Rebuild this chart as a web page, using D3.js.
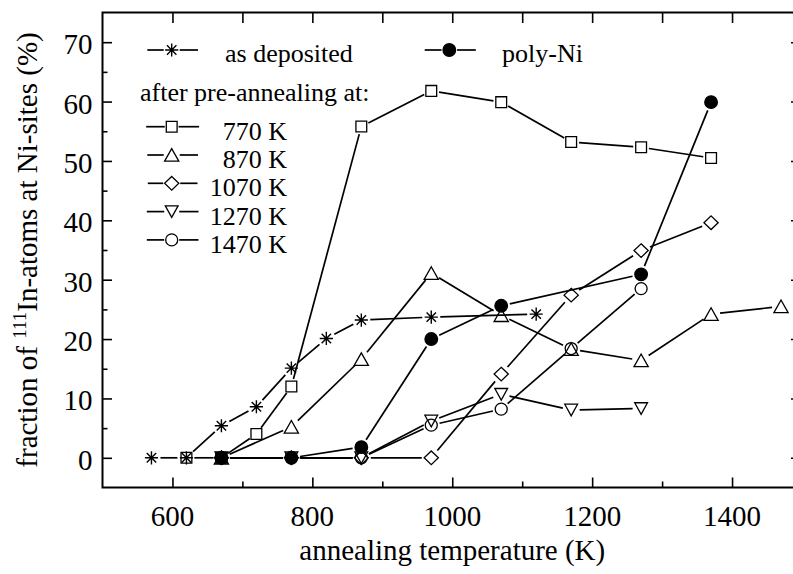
<!DOCTYPE html>
<html>
<head>
<meta charset="utf-8">
<script src="https://cdn.jsdelivr.net/npm/d3@7"></script>
<style>
  body { margin: 0; background: #fff; }
  svg { display: block; }
</style>
</head>
<body>
<div id="chart"></div>
<script>
// annealing temperatures (K) and fractions (%) for each sample
const tAsDep = [570, 620, 670, 720, 770, 820, 870, 970, 1120]
const vAsDep = [0, 0, 5.4, 8.6, 15.1, 20.1, 23.2, 23.7, 24.2]

const t770 = [620, 670, 720, 770, 870, 970, 1070, 1170, 1270, 1370]
const v770 = [0, 0, 4.0, 12.0, 55.8, 61.8, 59.9, 53.2, 52.3, 50.5]

const t870 = [670, 770, 870, 970, 1070, 1170, 1270, 1370, 1470]
const v870 = [0, 5.2, 16.6, 31.1, 24.0, 18.3, 16.4, 24.2, 25.5]

const t1070 = [670, 770, 870, 970, 1070, 1170, 1270, 1370]
const v1070 = [0, 0, 0, 0, 14.1, 27.4, 34.9, 39.6]

const t1270 = [670, 770, 870, 970, 1070, 1170, 1270]
const v1270 = [0, 0, 0, 6.2, 10.7, 8.05, 8.3]

const t1470 = [670, 770, 870, 970, 1070, 1170, 1270]
const v1470 = [0, 0, 0, 5.5, 8.2, 18.4, 28.5]

const tPoly = [670, 770, 870, 970, 1070, 1270, 1370]
const vPoly = [0, 0, 1.8, 20.0, 25.6, 30.9, 59.9]

const xTicks = [600, 800, 1000, 1200, 1400]
const yTicks = [0, 10, 20, 30, 40, 50, 60, 70]
const preLabels = ["770 K", "870 K", "1070 K", "1270 K", "1470 K"]

const FONT = "'Liberation Serif', 'DejaVu Serif', 'Times New Roman', Times, serif"

// marker shapes, r = half size used for line gaps
const markers = {
    square: {r: 5.4, d: "M-5.4,-5.4H5.4V5.4H-5.4Z", fill: "none"},
    tri: {r: 6.5, d: "M0,-6.4L7.1,6.2L-7.1,6.2Z", fill: "none"},
    diamond: {r: 7, d: "M0,-6.8L7.1,0L0,6.8L-7.1,0Z", fill: "none"},
    tridown: {r: 6, d: "M-6.4,-5.8L6.4,-5.8L0,5.8Z", fill: "none"},
    circle: {r: 6, d: "M6,0A6,6 0 1,1 -6,0A6,6 0 1,1 6,0Z", fill: "none"},
    dot: {r: 6.3, d: "M6.3,0A6.3,6.3 0 1,1 -6.3,0A6.3,6.3 0 1,1 6.3,0Z", fill: "#000"},
    star: {r: 6.5, d: "M0,-6.6V6.6M-6.6,0H6.6M-4.7,-4.7L4.7,4.7M-4.7,4.7L4.7,-4.7", fill: "none"}
}

const series = [
    {t: t770, v: v770, m: "square"},
    {t: t870, v: v870, m: "tri"},
    {t: t1070, v: v1070, m: "diamond"},
    {t: t1270, v: v1270, m: "tridown"},
    {t: t1470, v: v1470, m: "circle"},
    {t: tPoly, v: vPoly, m: "dot"},
    {t: tAsDep, v: vAsDep, m: "star"}
]

const width = 793
const height = 574
const margin = {top: 12.5, left: 102.5, bottom: 86.5, right: -9}
const iwidth = width - margin.left - margin.right
const iheight = height - margin.top - margin.bottom

const svg = d3.select("#chart").append("svg")
    .attr("width", width)
    .attr("height", height)
    .attr("font-family", FONT)

const g = svg.append("g").attr("transform", `translate(${margin.left},${margin.top})`)

const x = d3.scaleLinear().domain([500, 1500]).range([0, iwidth])
const y = d3.scaleLinear().domain([-5, 75]).range([iheight, 0])

// line segments stop short of the markers
function drawSegments(sel, pts, gap) {
    for (let i = 0; i < pts.length - 1; i++) {
        const [x1, y1] = pts[i], [x2, y2] = pts[i + 1]
        const len = Math.hypot(x2 - x1, y2 - y1)
        if (len <= 2 * gap) continue
        const ux = (x2 - x1) / len, uy = (y2 - y1) / len
        sel.append("line")
            .attr("x1", x1 + ux * gap).attr("y1", y1 + uy * gap)
            .attr("x2", x2 - ux * gap).attr("y2", y2 - uy * gap)
            .attr("stroke", "#000").attr("stroke-width", 1.7)
    }
}

function drawMarker(sel, name, cx, cy) {
    const m = markers[name]
    sel.append("path")
        .attr("d", m.d)
        .attr("transform", `translate(${cx},${cy})`)
        .attr("fill", m.fill)
        .attr("stroke", "#000")
        .attr("stroke-width", name === "star" ? 1.4 : 1.3)
}

const plot = g.append("g")
series.forEach(s => {
    const pts = s.t.map((t, i) => [x(t), y(s.v[i])])
    drawSegments(plot, pts, markers[s.m].r + 2.5)
    pts.forEach(p => drawMarker(plot, s.m, p[0], p[1]))
})

// axes: ticks on all four sides pointing inwards
const xb = g.append("g").attr("transform", `translate(0,${iheight})`)
    .call(d3.axisBottom(x).tickValues(d3.range(600, 1500, 100)).tickSize(-10).tickFormat(""))
xb.selectAll(".tick line").filter(d => d % 200 !== 0).attr("y2", -6)
const xt = g.append("g")
    .call(d3.axisTop(x).tickValues(d3.range(600, 1500, 100)).tickSize(-10.5).tickFormat(""))
const yl = g.append("g")
    .call(d3.axisLeft(y).tickValues(d3.range(0, 75, 5)).tickSize(-9.5).tickFormat(""))
yl.selectAll(".tick line").filter(d => d % 10 !== 0).attr("x2", 5)
const yr = g.append("g").attr("transform", `translate(${iwidth},0)`)
    .call(d3.axisRight(y).tickValues(d3.range(0, 75, 5)).tickSize(-11).tickFormat(""))
yr.selectAll(".tick line").filter(d => d % 10 !== 0).attr("x2", -5)

g.selectAll(".domain").remove()
g.selectAll(".tick line").attr("stroke", "#000").attr("stroke-width", 1.6)

g.append("rect")
    .attr("width", iwidth).attr("height", iheight)
    .attr("fill", "none").attr("stroke", "#000").attr("stroke-width", 2)

// tick labels
g.selectAll(".xlab").data(xTicks).enter().append("text")
    .attr("x", d => x(d)).attr("y", iheight + 38.5)
    .attr("text-anchor", "middle").attr("font-size", 29)
    .text(d => d)

g.selectAll(".ylab").data(yTicks).enter().append("text")
    .attr("x", -10).attr("y", d => y(d) + 12)
    .attr("text-anchor", "end").attr("font-size", 29)
    .text(d => d)

// axis titles
svg.append("text")
    .attr("x", margin.left + x(1000)).attr("y", 560)
    .attr("text-anchor", "middle").attr("font-size", 29)
    .text("annealing temperature (K)")

const ytitle = svg.append("text")
    .attr("transform", `translate(37,${margin.top + iheight / 2}) rotate(-90)`)
    .attr("text-anchor", "middle").attr("font-size", 29)
ytitle.append("tspan").text("fraction of ")
ytitle.append("tspan").attr("font-size", 19).attr("dy", -11).text("111")
ytitle.append("tspan").attr("dy", 11).text("In-atoms at Ni-sites (%)")

// legend
const leg = svg.append("g")
function legendRow(name, cx, cy) {
    const m = markers[name]
    drawSegments(leg, [[cx - 32.4, cy], [cx, cy], [cx + 34.3, cy]], m.r + 1.5)
    drawMarker(leg, name, cx, cy)
}
legendRow("star", 171.7, 50)
leg.append("text").attr("x", 225).attr("y", 62).attr("font-size", 26).text("as deposited")

legendRow("dot", 449.3, 50)
leg.append("text").attr("x", 502).attr("y", 62).attr("font-size", 26).text("poly-Ni")

leg.append("text").attr("x", 140).attr("y", 101).attr("font-size", 26).text("after pre-annealing at:")

const preMarkers = ["square", "tri", "diamond", "tridown", "circle"]
preMarkers.forEach((mk, i) => {
    const cy = 126.7 + i * 28.3
    legendRow(mk, 171.7, cy)
    leg.append("text").attr("x", 287).attr("y", cy + 13)
        .attr("text-anchor", "end").attr("font-size", 26).text(preLabels[i])
})
</script>
</body>
</html>
